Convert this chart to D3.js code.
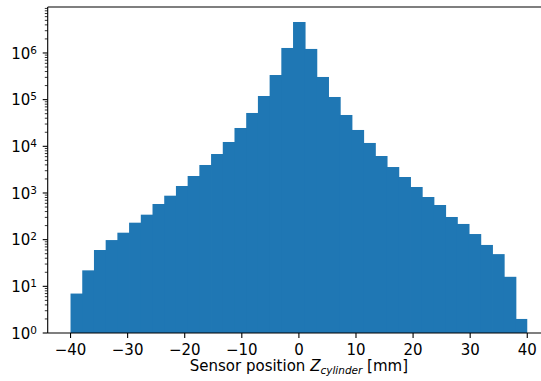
<!DOCTYPE html>
<html>
<head>
<meta charset="utf-8">
<script src="https://cdn.jsdelivr.net/npm/d3@7"></script>
<style>
  html, body { margin: 0; padding: 0; background: #fff; }
  svg { display: block; font-family: "DejaVu Sans", sans-serif; }
</style>
</head>
<body>
<svg id="chart" width="541" height="381"></svg>
<script>
// ---- data ----
const binLow = -40;
const binHigh = 40;
const counts = [7, 22, 60, 98, 141, 231, 343, 581, 875, 1412,
                2312, 3980, 6840, 12380, 24700, 51800, 119700, 337000, 1280000, 4610000,
                1220000, 306000, 114000, 46900, 22400, 11800, 6200, 3600, 2200, 1344,
                820, 553, 306, 217, 132, 77, 49, 16, 2];
const xTicks = [-40, -30, -20, -10, 0, 10, 20, 30, 40];
const yTickExps = [0, 1, 2, 3, 4, 5, 6];
const xDomain = [-44, 44];
const yDomain = [1, Math.pow(10, 6.985)];
const xLabelMain = "Sensor position ";
const xLabelVar = "Z";
const xLabelSub = "cylinder";
const xLabelUnit = " [mm]";

(function () {
// ---- layout ----
const pLeft = 47.7, pRight = 550.1, pTop = 7, pBottom = 333;
const fs = 15;
const color = "#1f77b4";

const svg = d3.select("#chart");
const x = d3.scaleLinear().domain(xDomain).range([pLeft, pRight]);
const y = d3.scaleLog().domain(yDomain).range([pBottom, pTop]);

const nb = counts.length;
const w = (binHigh - binLow) / nb;
const bins = counts.map((c, i) => ({x0: binLow + i * w, x1: binLow + (i + 1) * w, c, last: i === nb - 1}));

svg.append("g").selectAll("rect").data(bins).join("rect")
  .attr("x", d => x(d.x0))
  .attr("width", d => x(d.x1) - x(d.x0) + (d.last ? 0 : 0.8))
  .attr("y", d => y(d.c))
  .attr("height", d => pBottom - y(d.c))
  .attr("fill", color);

// spines
const ax = svg.append("g").attr("stroke", "#000").attr("stroke-width", 1.1).attr("fill", "none");
ax.append("line").attr("x1", pLeft).attr("x2", pLeft).attr("y1", pTop).attr("y2", pBottom);
ax.append("line").attr("x1", pLeft).attr("x2", pRight).attr("y1", pBottom).attr("y2", pBottom);
ax.append("line").attr("x1", pLeft).attr("x2", pRight).attr("y1", pTop).attr("y2", pTop);
ax.append("line").attr("x1", pRight).attr("x2", pRight).attr("y1", pTop).attr("y2", pBottom);

// x axis ticks
const xg = svg.append("g");
xTicks.forEach(t => {
  xg.append("line").attr("x1", x(t)).attr("x2", x(t)).attr("y1", pBottom).attr("y2", pBottom + 5)
    .attr("stroke", "#000").attr("stroke-width", 1.1);
  xg.append("text").attr("x", x(t)).attr("y", 354.5).attr("text-anchor", "middle")
    .attr("font-size", fs).attr("fill", "#000")
    .text(t < 0 ? "\u2212" + Math.abs(t) : String(t));
});

// y axis major ticks + labels
const yg = svg.append("g");
yTickExps.forEach(e => {
  const yy = y(Math.pow(10, e));
  yg.append("line").attr("x1", pLeft - 5).attr("x2", pLeft).attr("y1", yy).attr("y2", yy)
    .attr("stroke", "#000").attr("stroke-width", 1.1);
  const t = yg.append("text").attr("x", 37).attr("y", yy + 5.8).attr("text-anchor", "end")
    .attr("font-size", fs).attr("fill", "#000");
  t.append("tspan").text("10");
  t.append("tspan").attr("dy", -5).attr("font-size", fs * 0.7).text(String(e));
});
// minor ticks
const maxExp = Math.log10(yDomain[1]);
for (let e = 0; e <= Math.floor(maxExp); e++) {
  for (let m = 2; m <= 9; m++) {
    const v = m * Math.pow(10, e);
    if (v > yDomain[1]) continue;
    const yy = y(v);
    yg.append("line").attr("x1", pLeft - 2.9).attr("x2", pLeft).attr("y1", yy).attr("y2", yy)
      .attr("stroke", "#000").attr("stroke-width", 0.8);
  }
}

// x label
const lab = svg.append("text").attr("x", (pLeft + pRight) / 2).attr("y", 371)
  .attr("text-anchor", "middle").attr("font-size", fs).attr("fill", "#000");
lab.append("tspan").text(xLabelMain);
lab.append("tspan").attr("font-style", "italic").text(xLabelVar);
lab.append("tspan").attr("font-style", "italic").attr("font-size", fs * 0.7).attr("dy", 2.8).text(xLabelSub);
lab.append("tspan").attr("dy", -2.8).text(xLabelUnit);
})();
</script>
</body>
</html>
